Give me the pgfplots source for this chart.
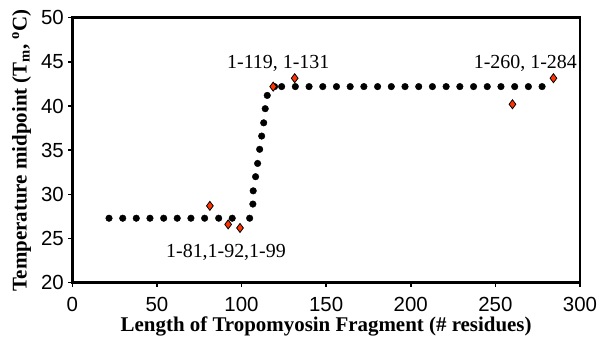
\documentclass[border=0pt]{standalone}
\usepackage{fontspec}
\setmainfont{Liberation Serif}
\newfontfamily\tickfont{Liberation Sans}
\usepackage{pgfplots}
\pgfplotsset{compat=1.18}
\definecolor{dred}{RGB}{255,51,0}
\begin{document}
\begin{tikzpicture}
\begin{axis}[
 scale only axis, width=507.7bp, height=265bp,
 xmin=0, xmax=300, ymin=20, ymax=50,
 xtick={0,50,...,300}, ytick={20,25,...,50},
 axis line style={line width=2.5bp},
 tick style={line width=1.5bp, black},
 tick align=outside, major tick length=4bp,
 xtick pos=bottom, ytick pos=left,
 /pgf/number format/assume math mode=true,
 ticklabel style={font=\tickfont\fontsize{20.5}{21}\selectfont},
 x tick label style={yshift=-7bp},
 y tick label style={xshift=-1bp},
 xlabel={Length of Tropomyosin Fragment (\# residues)},
 ylabel={Temperature midpoint (T\textsubscript{m}, \textsuperscript{o}C)},
 label style={font=\bfseries\fontsize{21}{22}\selectfont},
 x label style={at={(axis description cs:0.5,-0.165)}, anchor=center},
 y label style={at={(axis description cs:-0.100,0.5)}, anchor=center},
 clip=false,
]
\addplot[only marks, mark=*, mark size=3.3bp, black] coordinates {
(21.7,27.3)(29.8,27.3)(37.8,27.3)(45.9,27.3)(54.0,27.3)(62.0,27.3)(70.1,27.3)(78.2,27.3)(86.5,27.3)(94.5,27.3)(104.8,27.3)
(106.7,28.9)(106.9,30.4)(108.3,32.0)(109.5,33.5)(110.7,35.1)(111.9,36.6)(113.1,38.1)(114.0,39.7)(115.2,41.2)
(119.5,42.2)(123.7,42.2)(131.8,42.2)(139.9,42.2)(148.0,42.2)(156.1,42.2)(164.2,42.2)(172.3,42.2)(180.4,42.2)(188.5,42.2)(196.6,42.2)
(204.7,42.2)(212.8,42.2)(220.9,42.2)(229.0,42.2)(237.1,42.2)(245.2,42.2)(253.3,42.2)(261.4,42.2)(269.5,42.2)(277.6,42.2)
};
\addplot[only marks, mark=diamond*, mark size=4.5bp, draw=black, fill=dred, line width=0.8bp] coordinates {
(81.3,28.7)(92.1,26.6)(99.1,26.2)(118.7,42.2)(131.4,43.15)(260.1,40.2)(284.3,43.15)
};
\node[anchor=base, font=\fontsize{20}{20}\selectfont] at (axis cs:90.8,22.8) {1-81,1-92,1-99};
\node[anchor=base, font=\fontsize{20}{20}\selectfont] at (axis cs:121.7,44.28) {1-119, 1-131};
\node[anchor=base, font=\fontsize{20}{20}\selectfont] at (axis cs:267.7,44.28) {1-260, 1-284};
\end{axis}
\pgfresetboundingbox
\path[use as bounding box] (-72.3bp,-55.3bp) rectangle (527.7bp,282.7bp);
\end{tikzpicture}
\end{document}
